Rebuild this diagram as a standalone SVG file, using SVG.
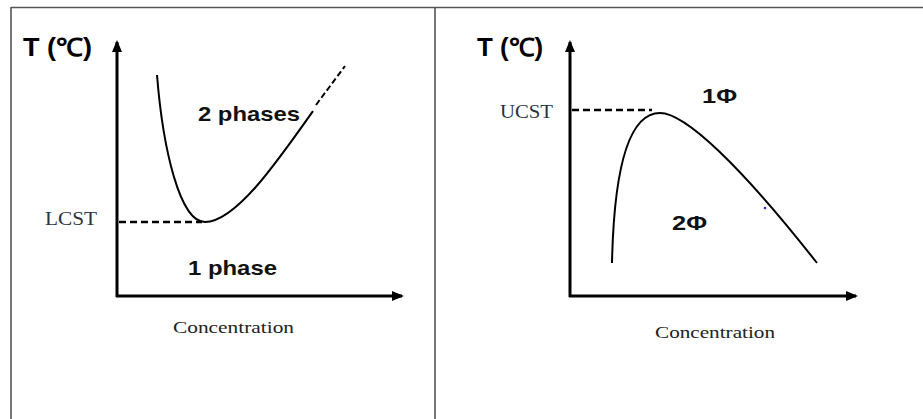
<svg xmlns="http://www.w3.org/2000/svg" width="923" height="419" viewBox="0 0 923 419">
<defs>
<style>
.frame{stroke:#555;stroke-width:1.6;fill:none}
.axis{stroke:#000;stroke-width:3;fill:none}
.curve{stroke:#000;stroke-width:2;fill:none}
.dash{stroke:#000;stroke-width:2.5;fill:none;stroke-dasharray:7,4}
.title{font-family:"Liberation Sans",Arial,sans-serif;font-weight:bold;font-size:25px;fill:#000}
.region{font-family:"Liberation Sans",Arial,sans-serif;font-weight:bold;font-size:21px;fill:#111}
.serif{font-family:"Liberation Serif","Times New Roman",serif;font-size:17px;fill:#222}
.crit{font-family:"Liberation Serif","Times New Roman",serif;font-size:18px;fill:#2a3440}
</style>
<marker id="ahb" markerWidth="12" markerHeight="10" refX="10" refY="5" orient="auto" markerUnits="userSpaceOnUse" viewBox="0 0 12 10">
<path d="M0,0 L12,5 L0,10 Z" fill="#000"/>
</marker>
</defs>
<g id="frame">
<line class="frame" x1="11" y1="7.5" x2="923" y2="7.5"/>
<line class="frame" x1="11" y1="7" x2="11" y2="419"/>
<line class="frame" x1="435" y1="7" x2="435" y2="419"/>
</g>
<g id="lcst-panel">
<g id="lcst-axes">
<line class="axis" x1="117" y1="297" x2="117" y2="42" marker-end="url(#ahb)"/>
<line class="axis" x1="116" y1="296" x2="402" y2="296" marker-end="url(#ahb)"/>
</g>
<text class="title" x="23" y="56" textLength="69" lengthAdjust="spacingAndGlyphs">T (℃)</text>
<text class="crit" x="45" y="225" textLength="52" lengthAdjust="spacingAndGlyphs">LCST</text>
<line class="dash" x1="119" y1="222" x2="202" y2="222"/>
<path class="curve" d="M157,75 C163,150 180,222 205,222 C235,222 275,165 313,111"/>
<line class="curve" x1="316" y1="105" x2="345" y2="66" stroke-dasharray="6,3"/>
<text class="region" x="198" y="121" textLength="102" lengthAdjust="spacingAndGlyphs">2 phases</text>
<text class="region" x="188" y="275" textLength="89" lengthAdjust="spacingAndGlyphs">1 phase</text>
<text class="serif" x="173" y="333" textLength="121" lengthAdjust="spacingAndGlyphs">Concentration</text>
</g>
<g id="ucst-panel">
<g id="ucst-axes">
<line class="axis" x1="570" y1="297" x2="570" y2="42" marker-end="url(#ahb)"/>
<line class="axis" x1="569" y1="296" x2="856" y2="296" marker-end="url(#ahb)"/>
</g>
<text class="title" x="477" y="56" textLength="66" lengthAdjust="spacingAndGlyphs">T (℃)</text>
<text class="crit" x="500" y="118" textLength="53" lengthAdjust="spacingAndGlyphs">UCST</text>
<line class="dash" x1="572" y1="110" x2="652" y2="110"/>
<path class="curve" d="M612,263 C614,170 628,113 660,113 C685,113 740,165 817,263"/>
<circle cx="765" cy="208" r="1.3" fill="#2233cc"/>
<text class="region" x="702" y="103" textLength="35" lengthAdjust="spacingAndGlyphs">1Φ</text>
<text class="region" x="672" y="230" textLength="35" lengthAdjust="spacingAndGlyphs">2Φ</text>
<text class="serif" x="655" y="338" textLength="120" lengthAdjust="spacingAndGlyphs">Concentration</text>
</g>
</svg>
